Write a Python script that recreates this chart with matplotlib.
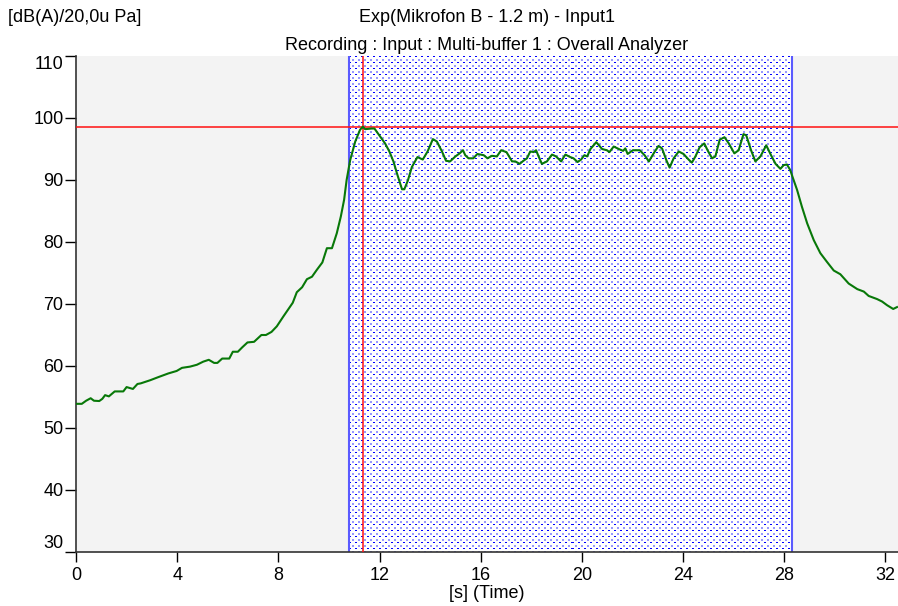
import numpy as np
import matplotlib.pyplot as plt

plt.rcParams['font.family'] = ['Liberation Sans', 'DejaVu Sans']

# Overall A-weighted level vs. time
time_s = [0.00, 0.23, 0.40, 0.58, 0.71, 0.92, 1.04, 1.15, 1.30, 1.53, 1.87, 2.00, 2.25, 2.43,
          2.56, 2.93, 3.25, 3.65, 3.98, 4.19, 4.51, 4.78, 5.03, 5.25, 5.46, 5.59, 5.78, 6.06,
          6.20, 6.40, 6.57, 6.78, 7.04, 7.33, 7.51, 7.73, 7.94, 8.20, 8.57, 8.73, 8.94, 9.13,
          9.33, 9.52, 9.74, 9.92, 10.12, 10.31, 10.47, 10.60, 10.70, 10.84, 11.04, 11.23, 11.34,
          11.43, 11.69, 11.80, 12.03, 12.22, 12.39, 12.55, 12.71, 12.89, 12.98, 13.12, 13.28,
          13.50, 13.71, 13.90, 14.11, 14.27, 14.47, 14.63, 14.79, 15.00, 15.17, 15.30, 15.39,
          15.52, 15.71, 15.87, 16.12, 16.27, 16.44, 16.64, 16.81, 17.02, 17.24, 17.37, 17.54,
          17.69, 17.83, 17.96, 18.10, 18.19, 18.29, 18.42, 18.62, 18.82, 18.98, 19.18, 19.35,
          19.54, 19.67, 19.83, 19.97, 20.10, 20.21, 20.34, 20.57, 20.80, 20.99, 21.09, 21.26,
          21.46, 21.63, 21.72, 21.81, 22.02, 22.29, 22.48, 22.65, 22.84, 23.03, 23.17, 23.34,
          23.47, 23.63, 23.83, 24.02, 24.22, 24.35, 24.49, 24.66, 24.84, 24.97, 25.15, 25.28,
          25.45, 25.64, 25.81, 26.03, 26.20, 26.39, 26.50, 26.69, 26.86, 27.06, 27.29, 27.48,
          27.66, 27.85, 27.98, 28.11, 28.24, 28.33, 28.51, 28.70, 28.91, 29.17, 29.43, 29.69,
          29.96, 30.22, 30.55, 30.89, 31.15, 31.34, 31.67, 31.87, 32.07, 32.31, 32.46]
level_db = [53.9, 53.9, 54.4, 54.8, 54.4, 54.35, 54.7, 55.3, 55.1, 55.9, 55.9, 56.6, 56.3, 57.1,
            57.2, 57.7, 58.2, 58.8, 59.2, 59.7, 59.9, 60.2, 60.7, 61.0, 60.5, 60.5, 61.2, 61.2,
            62.3, 62.3, 63.0, 63.8, 63.9, 65.0, 65.0, 65.5, 66.4, 68.0, 70.2, 71.9, 72.7, 74.0,
            74.4, 75.5, 76.7, 79.0, 79.0, 81.4, 84.1, 86.8, 90.0, 93.2, 96.2, 98.1, 98.6,
            98.2, 98.3, 98.3, 97.0, 95.9, 94.6, 93.0, 90.8, 88.5, 88.5, 89.9, 92.1,
            93.7, 93.3, 94.6, 96.6, 96.2, 94.6, 93.1, 93.0, 93.8, 94.3, 94.8, 94.0,
            93.5, 93.5, 94.2, 94.0, 93.5, 93.9, 93.8, 94.8, 94.5, 93.0, 93.0, 92.6,
            93.1, 93.5, 94.6, 94.5, 94.8, 93.8, 92.6, 93.0, 94.1, 93.8, 93.0, 94.1,
            93.7, 93.5, 92.9, 93.3, 94.0, 93.8, 95.0, 96.1, 95.0, 94.8, 94.5, 95.4,
            95.0, 94.7, 95.1, 94.2, 94.8, 94.8, 94.0, 93.0, 94.3, 95.5, 95.1, 93.2,
            92.0, 93.5, 94.6, 94.2, 93.3, 92.8, 93.8, 95.3, 95.9, 94.8, 93.5, 93.8,
            96.5, 96.9, 95.9, 94.3, 94.8, 97.4, 97.2, 94.8, 93.0, 93.8, 95.6, 94.0,
            92.6, 91.8, 92.4, 92.5, 91.6, 90.5, 88.4, 85.7, 83.0, 80.3, 78.2, 76.8,
            75.4, 74.8, 73.3, 72.4, 72.0, 71.3, 70.8, 70.4, 69.8, 69.2, 69.5]

# Cursor positions
band_start = 10.79
band_end = 28.32
cursor_x = 11.35
cursor_y = 98.6

x_ticks = [0, 4, 8, 12, 16, 20, 24, 28, 32]
y_ticks = [30, 40, 50, 60, 70, 80, 90, 100, 110]
x_max = 32.5
y_min, y_max = 30, 110

fig = plt.figure(figsize=(8.98, 6.06), dpi=100)
ax = fig.add_axes([76 / 898, 1 - 552 / 606, (898 - 76) / 898, 496 / 606])
ax.set_facecolor('#f3f3f3')

# dotted fill of the selected band, built as a small repeating tile
px_per_s = (898 - 76) / x_max
w_px = int(round((band_end - band_start) * px_per_s))
h_px = 496
tile = np.ones((6, 6, 3))
tile[0, 0:2] = [0.0, 0.0, 1.0]
tile[3:5, 3:5] = [0.6, 0.6, 1.0]
pattern = np.tile(tile, (h_px // 6 + 1, w_px // 6 + 1, 1))[:h_px, :w_px]
ax.imshow(pattern, extent=(band_start, band_end, y_min, y_max), aspect='auto',
          interpolation='nearest', zorder=1)

ax.axvline(band_start, color='#5a5aff', lw=1.5, zorder=2)
ax.axvline(band_end, color='#5a5aff', lw=1.5, zorder=2)
ax.axvline(cursor_x, color='#ff1010', lw=1.1, zorder=3)
ax.axhline(cursor_y, color='#ff1010', lw=1.1, zorder=3)

ax.plot(time_s, level_db, color='#087808', lw=1.5, zorder=4)

ax.set_xlim(0, x_max)
ax.set_ylim(y_min, y_max)
ax.set_xticks(x_ticks)
ax.set_yticks(y_ticks)
ax.tick_params(axis='x', direction='out', length=7.5, width=1, pad=3, labelsize=13)
ax.tick_params(axis='y', direction='out', length=8, width=1, pad=1, labelsize=13)
ax.spines['top'].set_visible(False)
ax.spines['right'].set_visible(False)
for s in ('left', 'bottom'):
    ax.spines[s].set_color('#333333')
    ax.spines[s].set_linewidth(1.2)

ylabels = ax.get_yticklabels()
ylabels[0].set_va('bottom')
ylabels[-1].set_va('top')

ax.set_xlabel('[s] (Time)', fontsize=13, labelpad=1)

fig.text(8 / 898, 1 - 18 / 606, '[dB(A)/20,0u Pa]', fontsize=13, ha='left', va='center')
fig.text(487 / 898, 1 - 18 / 606, 'Exp(Mikrofon B - 1.2 m) - Input1', fontsize=13,
         ha='center', va='center')
fig.text(487 / 898, 1 - 45 / 606, 'Recording : Input : Multi-buffer 1 : Overall Analyzer',
         fontsize=13, ha='center', va='center')

fig.savefig('out.png', dpi=100)
